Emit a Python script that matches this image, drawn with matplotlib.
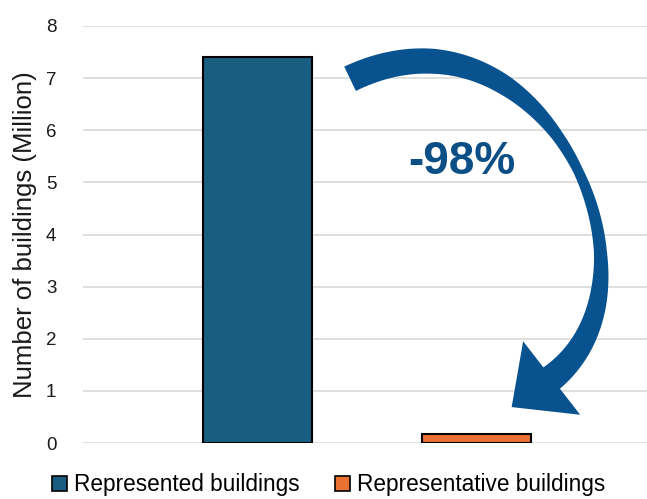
import numpy as np
import matplotlib

matplotlib.use("Agg")
import matplotlib.pyplot as plt
from matplotlib.patches import Polygon, Patch
from matplotlib.transforms import IdentityTransform

# data
series = ["Represented buildings", "Representative buildings"]
values = [7.4, 0.17]                 # million buildings
bar_colors = ["#195e81", "#e97132"]
change_label = "-98%"
yticks = [0, 1, 2, 3, 4, 5, 6, 7, 8]

ARROW = "#07528f"
TEXT_BLUE = "#0b4f86"

plt.rcParams["font.family"] = ["Liberation Sans", "DejaVu Sans"]


def curved_arrow(ax, p0, p1, p2, p3, tip, w_t, w_px, head_w, color):
    """Cubic-bezier arrow with varying shaft width; points in data coords, widths in px."""
    P = ax.transData.transform(np.array([p0, p1, p2, p3, tip]))
    t = np.linspace(0, 1, 160)[:, None]
    c = ((1 - t) ** 3 * P[0] + 3 * (1 - t) ** 2 * t * P[1]
         + 3 * (1 - t) * t ** 2 * P[2] + t ** 3 * P[3])
    d = (3 * (1 - t) ** 2 * (P[1] - P[0]) + 6 * (1 - t) * t * (P[2] - P[1])
         + 3 * t ** 2 * (P[3] - P[2]))
    d /= np.linalg.norm(d, axis=1, keepdims=True)
    n = np.column_stack([-d[:, 1], d[:, 0]])
    w = np.interp(t[:, 0], w_t, w_px)[:, None] / 2
    left = c + n * w
    right = c - n * w
    nb = n[-1]
    head = [P[3] + nb * head_w / 2, P[4], P[3] - nb * head_w / 2]
    pts = np.vstack([left, head, right[::-1]])
    ax.add_patch(Polygon(pts, closed=True, transform=IdentityTransform(),
                         facecolor=color, edgecolor="none", zorder=4, clip_on=False))


fig = plt.figure(figsize=(6.47, 4.99), dpi=100)
ax = fig.add_axes([0.128, 0.112, 0.872, 0.836])

x = np.arange(len(series))
handles = []
for xi, v, col, lab in zip(x, values, bar_colors, series):
    ax.bar(xi, v, width=0.5, color=col, edgecolor="black", linewidth=1.5, zorder=3)
    handles.append(Patch(facecolor=col, edgecolor="black", linewidth=1.2, label=lab))

ax.set_ylim(0, 8)
ax.set_xlim(-0.8, 1.78)
ax.set_yticks(yticks)
ax.set_xticks([])
ax.tick_params(axis="y", length=0, pad=19, labelsize=13.5, labelcolor="#1a1a1a")
ax.grid(axis="y", color="#d9d9d9", lw=1.2, zorder=0)
for s in ax.spines.values():
    s.set_visible(False)
ax.set_ylabel("Number of buildings (Million)", fontsize=18.5, color="#1a1a1a")
ax.yaxis.set_label_coords(-0.082, 0.5)

ax.text(0.935, 5.39, change_label, fontsize=33, fontweight="bold", color=TEXT_BLUE,
        ha="center", va="center", zorder=5)

curved_arrow(ax, (0.422, 6.987), (1.308, 8.76), (1.922, 3.129), (1.344, 1.248),
             (1.161, 0.691),
             w_t=[0, 0.15, 0.3, 0.45, 0.53, 0.7, 0.8, 1.0],
             w_px=[27, 25, 20, 12, 10, 13, 18, 27],
             head_w=93, color=ARROW)

fig.legend(handles=handles, loc="lower center", bbox_to_anchor=(0.508, -0.004), ncol=2,
           frameon=False, fontsize=16.3, handlelength=0.66, handleheight=0.66,
           handletextpad=0.3, columnspacing=1.55, borderaxespad=0, borderpad=0.2)

fig.savefig("out.png", dpi=100)
